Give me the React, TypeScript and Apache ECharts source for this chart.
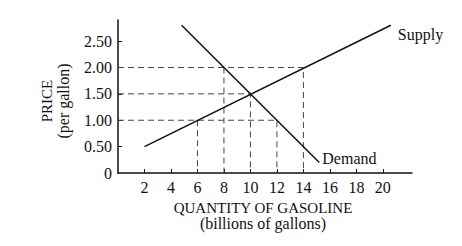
import React, { useEffect, useRef } from "react";
import * as echarts from "echarts";

const supplyPoints: [number, number][] = [[2, 0.5], [20.6, 2.8]];
const demandPoints: [number, number][] = [[4.8, 2.8], [15.2, 0.2]];
const guideLines: [number, number][][] = [
  [[0, 2.0], [14, 2.0], [14, 0]],
  [[0, 1.5], [10, 1.5], [10, 0]],
  [[0, 1.0], [12, 1.0], [12, 0]],
  [[6, 1.0], [6, 0]],
  [[8, 2.0], [8, 0]],
];
const xTicks = [2, 4, 6, 8, 10, 12, 14, 16, 18, 20];
const yTicks = [0, 0.5, 1.0, 1.5, 2.0, 2.5];
const xTitle = ["QUANTITY OF GASOLINE", "(billions of gallons)"];
const yTitle = ["PRICE", "(per gallon)"];

const FONT = "'Liberation Serif', 'Times New Roman', serif";

export default function App() {
  const ref = useRef<HTMLDivElement>(null);
  useEffect(() => {
    if (!ref.current) return;
    const chart = echarts.init(ref.current, null, { renderer: "svg" });
    chart.setOption({
      animation: false,
      backgroundColor: "#fff",
      grid: { left: 118, right: 50, top: 20, bottom: 73 },
      xAxis: {
        type: "value",
        min: 0,
        max: 22.2,
        interval: 2,
        axisLine: { lineStyle: { color: "#111", width: 1.5 } },
        axisTick: { show: true, inside: true, length: 4, customValues: xTicks, lineStyle: { color: "#111" } },
        axisLabel: { customValues: xTicks, color: "#111", fontFamily: FONT, fontSize: 16, margin: 6 },
        splitLine: { show: false },
      },
      yAxis: {
        type: "value",
        min: 0,
        max: 2.9,
        interval: 0.5,
        axisLine: { show: true, lineStyle: { color: "#111", width: 1.5 } },
        axisTick: { show: true, inside: true, length: 4, customValues: yTicks.filter((v) => v > 0), lineStyle: { color: "#111" } },
        axisLabel: {
          customValues: yTicks,
          color: "#111",
          fontFamily: FONT,
          fontSize: 16,
          margin: 6,
          formatter: (v: number) => (v === 0 ? "0" : v.toFixed(2)),
        },
        splitLine: { show: false },
      },
      graphic: [
        {
          type: "text",
          x: 263,
          y: 208,
          style: { text: xTitle[0], font: `15px ${FONT}`, fill: "#111", align: "center", verticalAlign: "middle" },
        },
        {
          type: "text",
          x: 263,
          y: 223,
          style: { text: xTitle[1], font: `16px ${FONT}`, fill: "#111", align: "center", verticalAlign: "middle" },
        },
        {
          type: "text",
          x: 47,
          y: 101,
          rotation: Math.PI / 2,
          style: { text: yTitle[0], font: `15px ${FONT}`, fill: "#111", align: "center", verticalAlign: "middle" },
        },
        {
          type: "text",
          x: 63,
          y: 101,
          rotation: Math.PI / 2,
          style: { text: yTitle[1], font: `16px ${FONT}`, fill: "#111", align: "center", verticalAlign: "middle" },
        },
      ],
      series: [
        ...guideLines.map((pts) => ({
          type: "line",
          data: pts,
          symbol: "none",
          silent: true,
          lineStyle: { color: "#444", width: 1, type: [6, 4] },
        })),
        {
          type: "line",
          data: supplyPoints,
          symbol: "none",
          lineStyle: { color: "#111", width: 1.5 },
          endLabel: { show: true, formatter: "Supply", color: "#111", fontFamily: FONT, fontSize: 16, distance: 7, offset: [0, 9] },
        },
        {
          type: "line",
          data: demandPoints,
          symbol: "none",
          lineStyle: { color: "#111", width: 1.5 },
          endLabel: { show: true, formatter: "Demand", color: "#111", fontFamily: FONT, fontSize: 16, distance: 3, offset: [0, -4] },
        },
      ],
    });
    return () => chart.dispose();
  }, []);
  return <div ref={ref} style={{ width: 462, height: 246, position: "absolute", left: 0, top: 0 }} />;
}
